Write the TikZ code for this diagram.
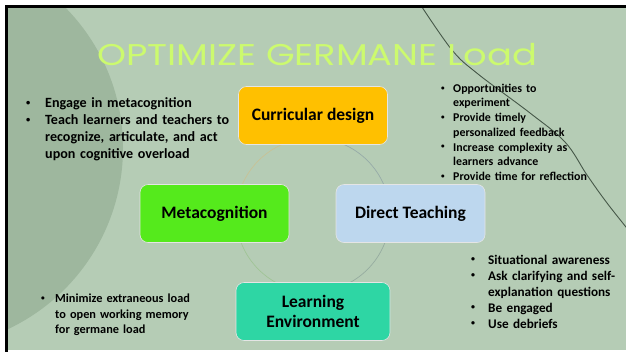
\documentclass[tikz,border=0pt]{standalone}
\usepackage{fontspec}
\usepackage{graphicx}
\setmainfont{Carlito}
\newfontfamily\titlefont{Poppins}
\definecolor{slidebg}{RGB}{181,204,181}
\definecolor{circbg}{RGB}{158,183,158}
\definecolor{titlecol}{RGB}{204,250,110}
\definecolor{cdcol}{RGB}{255,192,0}
\definecolor{mccol}{RGB}{85,234,28}
\definecolor{dtcol}{RGB}{189,215,238}
\definecolor{lecol}{RGB}{46,214,164}
\definecolor{curvecol}{RGB}{70,88,72}
\definecolor{arcA}{RGB}{200,194,150}
\definecolor{arcB}{RGB}{150,170,168}
\definecolor{arcC}{RGB}{160,196,150}
\definecolor{arcD}{RGB}{150,172,160}
\newcommand\smallbul{\raisebox{0.18em}{\scalebox{0.6}{\textbullet}}}
\newcommand\bitem[2]{\par\hangindent=#1\hangafter=1\noindent\makebox[#1][l]{\smallbul}#2\par}
\begin{document}
\begin{tikzpicture}[x=1pt,y=-1pt,
  box/.style={draw=white!80!gray, line width=0.6pt, rounded corners=8pt,
    minimum width=149pt, minimum height=58pt, inner sep=0pt, align=center,
    font=\fontsize{17.5}{19.5}\selectfont\bfseries},
  blist/.style={anchor=north west, inner sep=0pt, align=left, text width=#1},
  cyc/.style={line width=0.7pt}]
\fill[white] (0,0) rectangle (626,354);
\useasboundingbox (0,0) rectangle (626,354);
\fill[slidebg] (8,8) rectangle (626,350);
\begin{scope}
  \clip (8,8) rectangle (626,350);
  \fill[circbg] (-77,148) circle[radius=200];
  \draw[curvecol, line width=0.9pt] plot[smooth, tension=0.6] coordinates
    {(420,4) (452,50) (478,74) (530,113) (565,142) (587,175) (607,203) (630,232)};
\end{scope}
\fill[black] (5,5) rectangle (626,8);
\fill[black] (5,5) rectangle (8,352);

\node[font=\titlefont\fontsize{30}{34}\selectfont, text=titlecol, inner sep=0pt] (title) at (317,55) {\scalebox{1.23}[1]{OPTIMIZE GERMANE Load}};

\coordinate (c) at (313,215);
\draw[cyc, arcA] ([shift={(180:77)}]c) arc[start angle=180, end angle=270, radius=77];
\draw[cyc, arcB] ([shift={(270:77)}]c) arc[start angle=270, end angle=360, radius=77];
\draw[cyc, arcD] ([shift={(0:77)}]c) arc[start angle=0, end angle=90, radius=77];
\draw[cyc, arcC] ([shift={(90:77)}]c) arc[start angle=90, end angle=180, radius=77];

\node[box, fill=cdcol] (cd) at (313,115.5) {Curricular design};
\node[box, fill=mccol] (mc) at (214.5,213.5) {Metacognition};
\node[box, fill=dtcol] (dt) at (410.5,213.5) {Direct Teaching};
\node[box, fill=lecol, minimum width=154pt] (le) at (313,311.5) {Learning\\Environment};

\node[blist=230pt, font=\fontsize{14.1}{17}\selectfont\bfseries] (lt) at (26,90.5)
  {\bitem{19pt}{Engage in metacognition}\bitem{19pt}{Teach learners and teachers to\newline recognize, articulate, and act\newline upon cognitive overload}};
\node[blist=180pt, font=\fontsize{11.9}{14.7}\selectfont\bfseries] (rt) at (441,77.3)
  {\bitem{12pt}{Opportunities to\newline experiment}\bitem{12pt}{Provide timely\newline personalized feedback}\bitem{12pt}{Increase complexity as\newline learners advance}\bitem{12pt}{Provide time for reflection}};
\node[blist=180pt, font=\fontsize{12.3}{15.5}\selectfont\bfseries] (lb) at (41,287)
  {\bitem{14pt}{Minimize extraneous load\newline to open working memory\newline for germane load}};
\node[blist=160pt, font=\fontsize{13.2}{16}\selectfont\bfseries] (rb) at (471,248)
  {\bitem{17pt}{Situational awareness}\bitem{17pt}{Ask clarifying and self-\newline explanation questions}\bitem{17pt}{Be engaged}\bitem{17pt}{Use debriefs}};
\end{tikzpicture}
\end{document}
